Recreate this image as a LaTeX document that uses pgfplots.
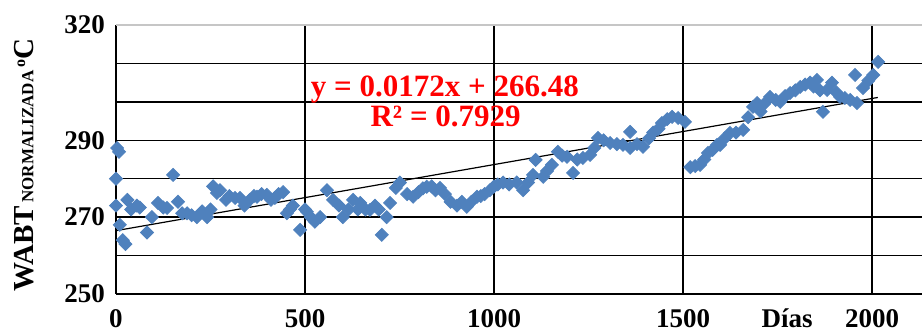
\documentclass[border=0pt]{standalone}
\usepackage{fontspec}
\setmainfont{Liberation Serif}
\usepackage{pgfplots}
\usepackage{pgfplotstable}
\pgfplotsset{compat=1.18}
\usetikzlibrary{calc}
\definecolor{ptblue}{HTML}{4F81BD}
\pgfplotstableread{
x y
0 280
0 273
3 288
8 287
10 268
18 264
25 263
30 274.5
40 272
55 273
63 272.5
82 266
95 270
111 273.7
125 272.5
135 272.4
151 281
164 274
175 271
188 271
200 270.5
214 270
228 271.5
241 270
250 272
257 278
267 276.3
275 277
291 274.5
300 275.5
315 275
328 275
340 273
354 274.5
365 275.5
373 275.3
385 276
399 275.8
410 274.5
420 275
430 276
442 276.5
452 271
460 272
468 273
487 266.7
500 272
505 271.4
515 270
526 268.8
540 270
558 277
574 274.5
590 273
600 270
615 272
627 274.5
640 272
646 273.7
660 272
672 271.9
685 273
695 272
703 265.4
716 270
725 273.7
740 277.6
751 279
770 276
786 275.3
800 276.5
812 277.5
822 277.9
835 278
845 277
857 277.6
870 276
885 274
902 273
915 274
928 272.7
940 274
955 275.3
965 275.5
975 276
989 277
1000 278
1010 278.5
1024 279
1040 278.5
1060 279
1077 277
1090 279
1103 281
1110 284.9
1130 280.5
1140 282
1153 283.6
1169 287
1180 286
1193 285.7
1209 281.5
1220 285
1235 285.4
1254 286.2
1265 288
1275 290.6
1290 290
1307 289.3
1325 289
1341 288.8
1360 292.2
1360 288
1378 289
1394 288.3
1410 290.5
1421 292
1435 293
1444 294.5
1458 295.5
1471 296.1
1487 295.8
1505 294.8
1519 283
1532 283.3
1545 283.6
1556 285
1566 286.7
1578 287.5
1590 288.8
1598 288.8
1610 290.5
1624 291.9
1640 292
1659 292.7
1672 296
1685 298.7
1696 299.7
1705 297.5
1715 299.5
1730 301.3
1745 300.5
1757 300
1770 301.5
1783 302.3
1797 303
1810 303.9
1823 304.5
1836 305
1845 304
1854 305.7
1862 303
1870 297.4
1881 303.1
1894 305
1905 302.5
1915 301.3
1928 301
1942 300.5
1955 307
1960 299.7
1976 303.6
1990 305.5
2003 307
2016 310.4
}\wabt
\begin{document}
\begin{tikzpicture}
\begin{axis}[name=ax, scale only axis, width=403pt, height=134.5pt,
  xmin=0, xmax=2132, ymin=250, ymax=320,
  axis x line*=bottom, axis y line*=left,
  axis line style={-, black, line width=0.8pt},
  xtick={0,500,1000,1500,2000}, xticklabels={0,500,1000,1500,2000},
  ytick={250,260,...,310}, yticklabels={250,,270,,290,,},
  extra y ticks={320}, extra y tick labels={320}, extra y tick style={grid=none},
  extra x ticks={1775}, extra x tick labels={Días}, extra x tick style={grid=none},
  major tick length=0pt,
  grid=major, grid style={black, line width=0.65pt},
  tick label style={font=\fontsize{13.5}{13.5}\selectfont\bfseries},
  /pgf/number format/assume math mode=true,
  yticklabel style={xshift=-2pt},
  xticklabel style={yshift=-4pt, text height=9pt, text depth=0pt},
  ylabel={{\fontsize{14.5}{14.5}\selectfont\bfseries WABT}\,{\fontsize{8.5}{8.5}\selectfont\bfseries NORMALIZADA}\,\raisebox{0.9ex}{\fontsize{8}{8}\selectfont\bfseries o}{\fontsize{14.5}{14.5}\selectfont\bfseries C}},
  ylabel style={at={(rel axis cs:0,0.48)}, anchor=center, rotate=0, yshift=46pt},
]
\draw[gray!45, line width=0.8pt] (rel axis cs:0,1) -- (rel axis cs:1,1);
\addplot[only marks, mark=square*, mark size=2.3pt, mark options={rotate=45, fill=ptblue, draw=ptblue}] table[x=x,y=y] {\wabt};
\addplot[black, line width=0.6pt, no marks] coordinates {(0,266.48) (2015,301.14)};
\node[text=red, font=\fontsize{15.5}{15.5}\selectfont\bfseries] at (axis cs:870,303.1) {y = 0.0172x + 266.48};
\node[text=red, font=\fontsize{15.5}{15.5}\selectfont\bfseries] at (axis cs:872,296.1) {R² = 0.7929};
\end{axis}
\pgfresetboundingbox
\path ($(ax.south west)+(-58pt,-18.5pt)$) rectangle ($(ax.north east)+(0pt,12.5pt)$);
\end{tikzpicture}
\end{document}
